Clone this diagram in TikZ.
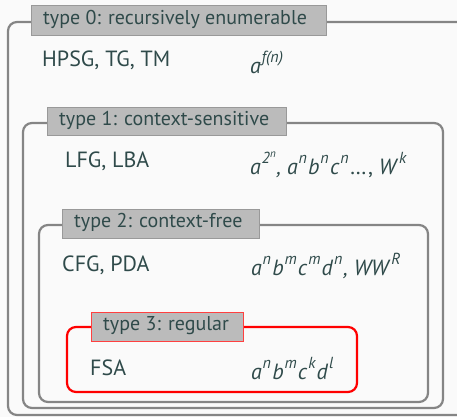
\documentclass[tikz,border=0pt]{standalone}
\usepackage{fontspec}
\setmainfont{PT Sans}
\definecolor{bgc}{HTML}{FAFAFA}
\definecolor{txt}{HTML}{2F4A4A}
\definecolor{frm}{HTML}{858585}
\definecolor{lblfill}{HTML}{BBBBBB}
\definecolor{lbledge}{HTML}{999999}
\newcommand\ssup[1]{\/\kern0.8pt\raisebox{0.5em}{\fontsize{16}{16}\selectfont #1}\kern1.2pt}
\newcommand\sssup[1]{\raisebox{0.4em}{\fontsize{11}{11}\selectfont #1}}
\begin{document}
\begin{tikzpicture}[x=1pt,y=-1pt,
  frame/.style={draw=frm,line width=2.2pt,rounded corners=9pt},
  redframe/.style={draw=red,line width=2.2pt,rounded corners=9pt},
  lblbox/.style={draw=lbledge,line width=1pt,fill=lblfill,inner sep=0pt,anchor=north west},
  lbltxt/.style={text=txt,font=\fontsize{20}{22}\selectfont,inner sep=0pt,anchor=west},
  body/.style={text=txt,font=\fontsize{22}{24}\selectfont,anchor=west,inner sep=0pt},
  mth/.style={text=txt,font=\fontsize{22}{24}\selectfont\itshape,anchor=west,inner sep=0pt}]
\useasboundingbox (0,0) rectangle (457,417);
\fill[bgc] (0,0) rectangle (457,417);
\clip (0,0) rectangle (457,417);
% frames
\draw[frame] (8,22) rectangle (470,415);
\draw[frame] (23,123) rectangle (443,408);
\draw[frame] (39,225) rectangle (428,402);
\draw[redframe] (67,327) rectangle (357,392);
% labels
\node[lblbox,minimum width=295pt,minimum height=30pt] (l0) at (31,5) {};
\node[lbltxt] (l0t) at ([xshift=12pt,yshift=1.5pt]l0.west) {type 0: recursively enumerable};
\node[lblbox,minimum width=239pt,minimum height=28pt] (l1) at (47,107) {};
\node[lbltxt] (l1t) at ([xshift=12pt,yshift=1.5pt]l1.west) {type 1: context-sensitive};
\node[lblbox,minimum width=197pt,minimum height=29pt] (l2) at (62,209) {};
\node[lbltxt] (l2t) at ([xshift=12pt,yshift=1.5pt]l2.west) {type 2: context-free};
\node[lblbox,draw=red!75,minimum width=152pt,minimum height=29pt] (l3) at (91,312) {};
\node[lbltxt] (l3t) at ([xshift=12pt,yshift=1.5pt]l3.west) {type 3: regular};
% contents
\node[body] (t0) at (42,60) {HPSG, TG, TM};
\node[mth] (m0) at (250,62) {a\ssup{f(n)}};
\node[body] (t1) at (65,161) {LFG, LBA};
\node[mth] (m1) at (250,165) {a\ssup{2\sssup{n}}, a\ssup{n}b\ssup{n}c\ssup{n}\upshape\dots, \itshape W\ssup{k}};
\node[body] (t2) at (62,265) {CFG, PDA};
\node[mth] (m2) at (251,266) {a\ssup{n}b\ssup{m}c\ssup{m}d\ssup{n}, WW\ssup{R}};
\node[body] (t3) at (90,368) {FSA};
\node[mth] (m3) at (251,369) {a\ssup{n}b\ssup{m}c\ssup{k}d\ssup{l}};
\end{tikzpicture}
\end{document}
